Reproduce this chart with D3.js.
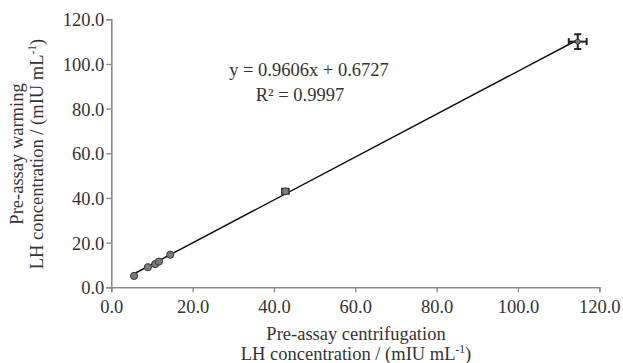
<!DOCTYPE html>
<html>
<head>
<meta charset="utf-8">
<script src="https://cdn.jsdelivr.net/npm/d3@7"></script>
<style>
  body { margin: 0; background: #fff; }
  text { font-family: "Liberation Serif", "Times New Roman", serif; }
</style>
</head>
<body>
<div id="chart"></div>
<script>
// data
var centrifugation = [5.6, 9.0, 10.8, 11.7, 14.5, 42.8, 114.7];
var warming        = [5.1, 9.0, 10.4, 11.5, 14.6, 43.0, 110.0];
var xErr           = [0, 0, 0, 0, 0, 0.8, 2.2];
var yErr           = [0, 0, 0, 0, 0, 0.8, 3.3];
var ticks = [0, 20, 40, 60, 80, 100, 120];
var slope = 0.9606, intercept = 0.6727;
var eqLabel = 'y = 0.9606x + 0.6727';
var r2Label = 'R² = 0.9997';

var width = 623, height = 363;
var fontSize = '18.5px';
var svg = d3.select('#chart').append('svg')
  .attr('width', width)
  .attr('height', height);

var x = d3.scaleLinear().domain([0, 120]).range([111.3, 599.3]);
var y = d3.scaleLinear().domain([0, 120]).range([287.3, 19.3]);

var axisColor = '#8c8c8c';
var labelColor = '#333';

// axes
var xAxis = svg.append('g')
  .attr('transform', 'translate(0,' + y(0) + ')')
  .call(d3.axisBottom(x).tickValues(ticks).tickFormat(d3.format('.1f')).tickSizeOuter(0).tickSize(5));
var yAxis = svg.append('g')
  .attr('transform', 'translate(' + x(0) + ',0)')
  .call(d3.axisLeft(y).tickValues(ticks).tickFormat(d3.format('.1f')).tickSizeOuter(0).tickSize(5));

[xAxis, yAxis].forEach(function(a) {
  a.select('.domain').attr('stroke', axisColor).attr('stroke-width', 1.6);
  a.selectAll('.tick line').attr('stroke', axisColor).attr('stroke-width', 1.4);
  a.selectAll('.tick text')
    .attr('fill', labelColor)
    .style('font-size', fontSize)
    .style('font-family', '"Liberation Serif", serif');
});
xAxis.selectAll('.tick text').attr('dy', null).attr('y', 26);
yAxis.selectAll('.tick text').attr('x', -7).attr('dy', '0.35em');

// regression line
var x0 = d3.min(centrifugation), x1 = d3.max(centrifugation);
svg.append('line')
  .attr('x1', x(x0)).attr('y1', y(slope * x0 + intercept))
  .attr('x2', x(x1)).attr('y2', y(slope * x1 + intercept))
  .attr('stroke', '#111')
  .attr('stroke-width', 1.5);

var pts = centrifugation.map(function(d, i) {
  return { x: d, y: warming[i], ex: xErr[i], ey: yErr[i] };
});

// error bars
var eb = svg.append('g').selectAll('g')
  .data(pts.filter(function(d) { return d.ex > 0 || d.ey > 0; }))
  .enter().append('g')
  .attr('stroke', '#222')
  .attr('stroke-width', 2);
eb.append('line')
  .attr('x1', function(d) { return x(d.x - d.ex); })
  .attr('x2', function(d) { return x(d.x + d.ex); })
  .attr('y1', function(d) { return y(d.y); })
  .attr('y2', function(d) { return y(d.y); });
eb.append('line')
  .attr('x1', function(d) { return x(d.x); })
  .attr('x2', function(d) { return x(d.x); })
  .attr('y1', function(d) { return y(d.y - d.ey); })
  .attr('y2', function(d) { return y(d.y + d.ey); });
[-1, 1].forEach(function(s) {
  eb.append('line')
    .attr('x1', function(d) { return x(d.x + s * d.ex); })
    .attr('x2', function(d) { return x(d.x + s * d.ex); })
    .attr('y1', function(d) { return y(d.y) - 3.5; })
    .attr('y2', function(d) { return y(d.y) + 3.5; });
  eb.append('line')
    .attr('x1', function(d) { return x(d.x) - 3.5; })
    .attr('x2', function(d) { return x(d.x) + 3.5; })
    .attr('y1', function(d) { return y(d.y + s * d.ey); })
    .attr('y2', function(d) { return y(d.y + s * d.ey); });
});

// points
svg.append('g').selectAll('circle')
  .data(pts)
  .enter().append('circle')
  .attr('cx', function(d) { return x(d.x); })
  .attr('cy', function(d) { return y(d.y); })
  .attr('r', function(d, i) { return i === pts.length - 1 ? 2.5 : 3.6; })
  .attr('fill', '#7a7a7a')
  .attr('stroke', '#3a3a3a')
  .attr('stroke-width', 1);

// equation
svg.append('text')
  .attr('x', 309).attr('y', 76)
  .attr('text-anchor', 'middle')
  .attr('fill', labelColor)
  .style('font-size', fontSize)
  .text(eqLabel);
svg.append('text')
  .attr('x', 300).attr('y', 101)
  .attr('text-anchor', 'middle')
  .attr('fill', labelColor)
  .style('font-size', fontSize)
  .text(r2Label);

// axis titles
function unitLine(sel) {
  sel.append('tspan').text('LH concentration / (mIU mL');
  sel.append('tspan').attr('dy', -7).style('font-size', '11.5px').text('-1');
  sel.append('tspan').attr('dy', 7).text(')');
}

var xt = svg.append('g').attr('fill', labelColor).style('font-size', fontSize);
xt.append('text').attr('x', 356).attr('y', 340).attr('text-anchor', 'middle')
  .text('Pre-assay centrifugation');
unitLine(xt.append('text').attr('x', 356).attr('y', 359.5).attr('text-anchor', 'middle'));

var yt = svg.append('g').attr('fill', labelColor).style('font-size', fontSize)
  .attr('transform', 'translate(0,154) rotate(-90)');
yt.append('text').attr('x', 0).attr('y', 23).attr('text-anchor', 'middle')
  .text('Pre-assay warming');
unitLine(yt.append('text').attr('x', 0).attr('y', 43).attr('text-anchor', 'middle'));
</script>
</body>
</html>
